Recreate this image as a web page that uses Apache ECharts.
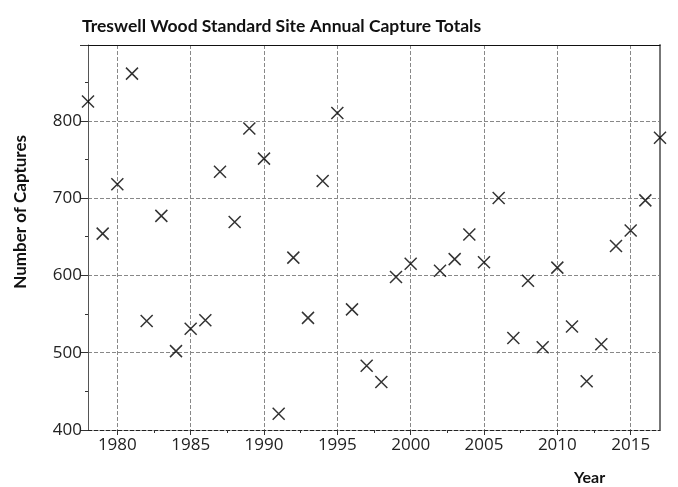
<!DOCTYPE html>
<html>
<head>
<meta charset="utf-8">
<script src="https://cdn.jsdelivr.net/npm/echarts@6/dist/echarts.min.js"></script>
<style>
  html, body { margin: 0; padding: 0; background: #fff; }
  #chart { width: 678px; height: 487px; }
</style>
</head>
<body>
<div id="chart"></div>
<script>
  // annual totals (1978..2017, no point for 2001)
  const years = [1978, 1979, 1980, 1981, 1982, 1983, 1984, 1985, 1986, 1987,
                 1988, 1989, 1990, 1991, 1992, 1993, 1994, 1995, 1996, 1997,
                 1998, 1999, 2000, 2002, 2003, 2004, 2005, 2006, 2007, 2008,
                 2009, 2010, 2011, 2012, 2013, 2014, 2015, 2016, 2017]
  const captures = [825, 654, 718, 861, 541, 677, 502, 531, 542, 734,
                    669, 790, 751, 421, 623, 545, 722, 810, 556, 483,
                    462, 598, 615, 606, 621, 653, 617, 700, 519, 593,
                    507, 610, 534, 463, 511, 638, 658, 697, 778]
  const yearTicks = [1980, 1985, 1990, 1995, 2000, 2005, 2010, 2015]
  const yearMinor = [1982.5, 1987.5, 1992.5, 1997.5, 2002.5, 2007.5, 2012.5]

  const chart = echarts.init(document.getElementById('chart'))
  const font = 'Lato, "Open Sans", sans-serif'
  const labelFont = '"Open Sans", Lato, sans-serif'
  const dash = { color: '#888', type: 'dashed' }

  chart.setOption({
    animation: false,
    textStyle: { fontFamily: font },
    title: {
      text: 'Treswell Wood Standard Site Annual Capture Totals',
      left: 77,
      top: 12,
      textStyle: { fontFamily: font, fontSize: 17.5, fontWeight: 'bold', color: '#111' }
    },
    grid: { left: 88, right: 18, top: 45, bottom: 57 },
    graphic: [
      {
        type: 'text', left: 12, top: 135,
        rotation: Math.PI / 2,
        style: { text: 'Number of Captures', font: 'bold 17px ' + font, fill: '#111' }
      },
      {
        type: 'text', left: 574, top: 470,
        style: { text: 'Year', font: 'bold 16px ' + font, fill: '#111' }
      }
    ],
    xAxis: [
      {
        type: 'value',
        min: 1978,
        max: 2017,
        axisLine: { show: true, lineStyle: { color: '#222', type: 'dashed' } },
        axisTick: { show: true, length: 5, customValues: yearTicks, lineStyle: { color: '#333' } },
        axisLabel: {
          customValues: yearTicks, formatter: v => String(v),
          fontFamily: labelFont, fontSize: 17, color: '#222', margin: 7
        },
        splitLine: { show: true, lineStyle: dash }
      },
      {
        // minor ticks between the labelled years
        type: 'value',
        min: 1978,
        max: 2017,
        position: 'bottom',
        axisLine: { show: false },
        axisTick: { show: true, length: 3, customValues: yearMinor, lineStyle: { color: '#333' } },
        axisLabel: { show: false, customValues: yearMinor },
        splitLine: { show: false }
      },
      {
        // top frame line
        type: 'value',
        min: 1978,
        max: 2017,
        position: 'top',
        axisLine: { show: true, lineStyle: { color: '#111', width: 1 } },
        axisTick: { show: false },
        axisLabel: { show: false },
        splitLine: { show: false }
      }
    ],
    yAxis: [
      {
        type: 'value',
        min: 400,
        max: 898,
        interval: 100,
        axisLine: { show: true, lineStyle: { color: '#555' } },
        axisTick: { show: true, length: 8, lineStyle: { color: '#333' } },
        minorTick: { show: true, splitNumber: 2, length: 3, lineStyle: { color: '#333' } },
        axisLabel: { fontFamily: labelFont, fontSize: 17, color: '#222', margin: 6, showMaxLabel: false },
        splitLine: { show: true, lineStyle: dash }
      },
      {
        // right frame line
        type: 'value',
        min: 400,
        max: 898,
        position: 'right',
        axisLine: { show: true, lineStyle: { color: '#777', width: 2 } },
        axisTick: { show: false },
        axisLabel: { show: false },
        splitLine: { show: false }
      }
    ],
    series: [{
      type: 'scatter',
      data: years.map((y, i) => [y, captures[i]]),
      symbol: 'path://M0,0L10,10M10,0L0,10',
      symbolSize: 12,
      itemStyle: { color: 'none', borderColor: '#000', borderWidth: 1.5 }
    }]
  })
</script>
</body>
</html>
